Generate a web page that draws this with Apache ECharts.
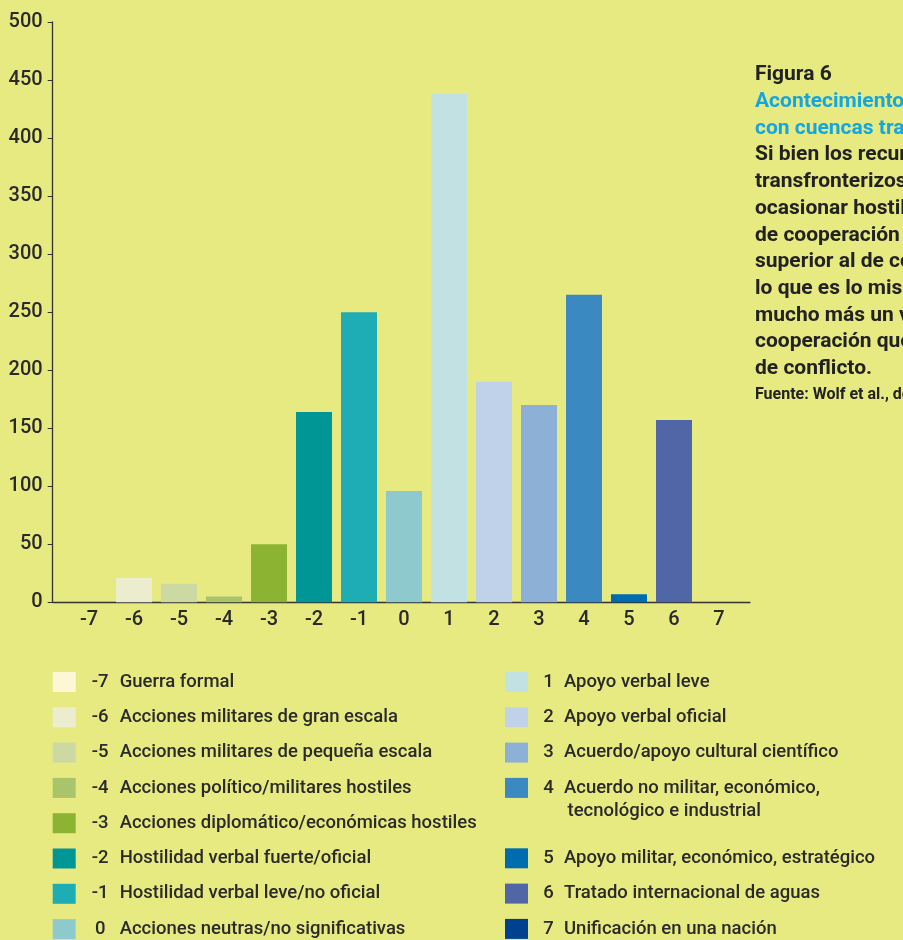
<!DOCTYPE html>
<html>
<head>
<meta charset="utf-8">
<title>Figura 6</title>
<script src="https://cdn.jsdelivr.net/npm/echarts@6.0.0/dist/echarts.min.js"></script>
<style>
  html, body { margin: 0; padding: 0; background: #e7ea80; }
  #main { width: 903px; height: 940px; }
</style>
</head>
<body>
<div id="main"></div>
<script>
// escala de acontecimientos (-7 conflicto ... 7 cooperacion)
var categories = ['-7', '-6', '-5', '-4', '-3', '-2', '-1', '0', '1', '2', '3', '4', '5', '6', '7'];
var counts = [0, 21, 16, 5, 50, 164, 250, 96, 438, 190, 170, 265, 7, 157, 0];
var eventNames = [
    'Guerra formal',
    'Acciones militares de gran escala',
    'Acciones militares de pequeña escala',
    'Acciones político/militares hostiles',
    'Acciones diplomático/económicas hostiles',
    'Hostilidad verbal fuerte/oficial',
    'Hostilidad verbal leve/no oficial',
    'Acciones neutras/no significativas',
    'Apoyo verbal leve',
    'Apoyo verbal oficial',
    'Acuerdo/apoyo cultural científico',
    'Acuerdo no militar, económico,',
    'Apoyo militar, económico, estratégico',
    'Tratado internacional de aguas',
    'Unificación en una nación'
];
var barColors = ['#fef7d6', '#ecedcf', '#ccd9a3', '#a9c46a', '#8db333', '#009696', '#1eadb4', '#8ecacd',
                 '#c2e1e3', '#bfd2ea', '#8db1d6', '#3a8ac1', '#006cb0', '#5066a6', '#00418f'];

var textLines = [
    ['a', 'Figura 6'],
    ['b', 'Acontecimientos relacionados'],
    ['b', 'con cuencas transfronterizas'],
    ['a', 'Si bien los recursos hídricos'],
    ['a', 'transfronterizos pueden'],
    ['a', 'ocasionar hostilidad, el número'],
    ['a', 'de cooperación es muy'],
    ['a', 'superior al de conflicto,'],
    ['a', 'lo que es lo mismo que decir'],
    ['a', 'mucho más un vínculo de'],
    ['a', 'cooperación que una fuente'],
    ['a', 'de conflicto.'],
    ['d', 'Fuente: Wolf et al., de próxima aparición.']
];

var ink = '#2a2a2a';
var legendSize = 18.5;
var myChart = echarts.init(document.getElementById('main'));

var series = [];
for (var i = 0; i < categories.length; i++) {
    var d = [];
    for (var j = 0; j < categories.length; j++) {
        d.push(j === i ? counts[i] : '-');
    }
    series.push({
        name: eventNames[i],
        type: 'bar',
        stack: 'total',
        xAxisIndex: 0,
        yAxisIndex: 0,
        barCategoryGap: '20%',
        itemStyle: { color: barColors[i] },
        data: d
    });
}

function legendLabel(name) {
    var k = eventNames.indexOf(name);
    return '{n|' + categories[k] + '}{t|' + name + '}';
}

function makeLegend(names, left, top, numWidth) {
    return {
        orient: 'vertical',
        left: left,
        top: top,
        padding: 0,
        icon: 'rect',
        itemWidth: 23,
        itemHeight: 20,
        itemGap: 15.3,
        selectedMode: false,
        data: names,
        formatter: legendLabel,
        textStyle: {
            color: ink,
            rich: {
                n: { width: numWidth, align: 'center', fontSize: legendSize, fontWeight: 500, lineHeight: 20, color: ink },
                t: { fontSize: legendSize, fontWeight: 500, lineHeight: 20, color: ink }
            }
        }
    };
}

var blockText = textLines.map(function (l) { return '{' + l[0] + '|' + l[1] + '}'; }).join('\n');

var option = {
    backgroundColor: '#e7ea80',
    animation: false,
    textStyle: { fontFamily: 'Roboto' },
    title: [
        {
            left: 755,
            top: 61.7,
            padding: 0,
            text: blockText,
            textStyle: {
                rich: {
                    a: { fontSize: 21, fontWeight: 'bold', color: '#222', lineHeight: 26.7 },
                    b: { fontSize: 21, fontWeight: 'bold', color: '#14a6e0', lineHeight: 26.7 },
                    d: { fontSize: 16, fontWeight: 'bold', color: '#222', lineHeight: 26.7 }
                }
            }
        },
        {
            left: 567.5,
            top: 801.7,
            padding: 0,
            text: 'tecnológico e industrial',
            textStyle: { fontSize: legendSize, fontWeight: 500, color: ink, lineHeight: 20 }
        }
    ],
    legend: [
        makeLegend(eventNames.slice(0, 8), 52.7, 672, 39),
        makeLegend(eventNames.slice(8, 12), 505, 672, 31),
        makeLegend(eventNames.slice(12), 505, 848.3, 31)
    ],
    grid: [
        // barras
        { left: 66.5, right: 161.5, top: 22, bottom: 337.7 },
        // marco de ejes
        { left: 52.7, right: 153, top: 22, bottom: 337.7 }
    ],
    xAxis: [
        {
            type: 'category',
            gridIndex: 0,
            data: categories,
            axisLine: { show: false },
            axisTick: { show: false },
            axisLabel: { fontSize: 20, fontWeight: 500, color: ink, margin: 8 }
        },
        {
            type: 'value',
            gridIndex: 1,
            min: 0,
            max: 1,
            axisLine: { show: true, onZero: false, lineStyle: { color: '#333', width: 1.3 } },
            axisTick: { show: false },
            axisLabel: { show: false },
            splitLine: { show: false }
        }
    ],
    yAxis: [
        { type: 'value', gridIndex: 0, min: 0, max: 500, show: false },
        {
            type: 'value',
            gridIndex: 1,
            min: 0,
            max: 500,
            interval: 50,
            axisLine: { show: true, lineStyle: { color: '#333', width: 1.3 } },
            axisTick: { show: true, length: 5, lineStyle: { color: '#333' } },
            axisLabel: { fontSize: 20, fontWeight: 500, color: ink, margin: 10 },
            splitLine: { show: false }
        }
    ],
    series: series
};

myChart.setOption(option);
</script>
</body>
</html>
